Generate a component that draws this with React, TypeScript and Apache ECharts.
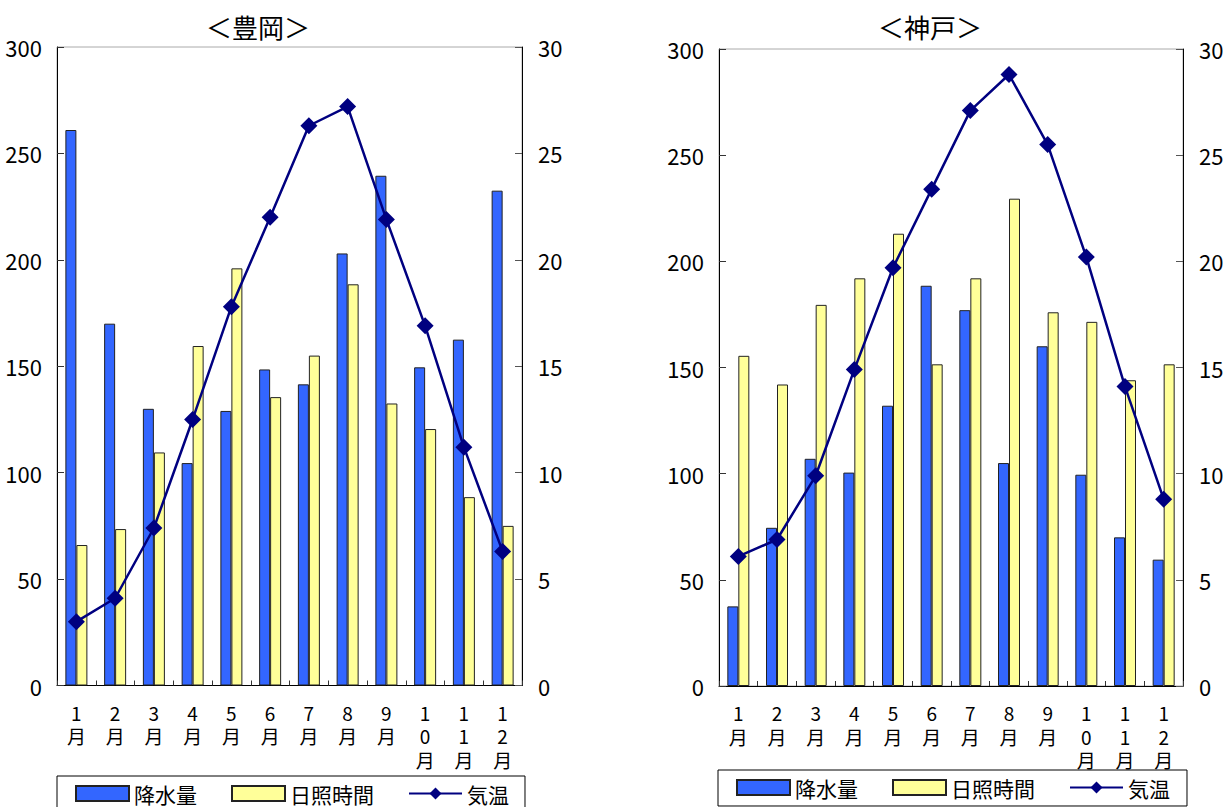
import React, { useEffect, useRef } from "react";
import * as echarts from "echarts";

const months = ["1\n月", "2\n月", "3\n月", "4\n月", "5\n月", "6\n月", "7\n月", "8\n月", "9\n月", "1\n0\n月", "1\n1\n月", "1\n2\n月"];

const toyookaRain = [261, 170, 130, 104.5, 129, 148.5, 141.5, 203, 239.5, 149.5, 162.5, 232.5];
const toyookaSun = [66, 73.5, 109.5, 159.5, 196, 135.5, 155, 188.5, 132.5, 120.5, 88.5, 75];
const toyookaTemp = [3.0, 4.1, 7.4, 12.5, 17.8, 22.0, 26.3, 27.2, 21.9, 16.9, 11.2, 6.3];

const kobeRain = [37.5, 74.5, 107, 100.5, 132, 188.5, 177, 105, 160, 99.5, 70, 59.5];
const kobeSun = [155.5, 142, 179.5, 192, 213, 151.5, 192, 229.5, 176, 171.5, 144, 151.5];
const kobeTemp = [6.1, 6.9, 9.9, 14.9, 19.7, 23.4, 27.1, 28.8, 25.5, 20.2, 14.1, 8.8];

const titles = ["＜豊岡＞", "＜神戸＞"];
const seriesNames = ["降水量", "日照時間", "気温"];

const NUM_FONT = "'Liberation Sans Narrow', 'Noto Sans CJK JP', sans-serif";
const CJK_FONT = "'Noto Sans CJK JP', sans-serif";

export default function App() {
  const ref = useRef<HTMLDivElement>(null);

  useEffect(() => {
    document.body.style.margin = "0";
    if (!ref.current) return;
    const chart = echarts.init(ref.current, null, { renderer: "svg" });

    const grids = [
      { left: 57, right: 1229 - 522, top: 47, bottom: 807 - 685.5 },
      { left: 719, right: 1229 - 1183, top: 49, bottom: 807 - 686 },
    ];
    const data = [
      [toyookaRain, toyookaSun, toyookaTemp],
      [kobeRain, kobeSun, kobeTemp],
    ];

    const axisLineStyle = { show: true, lineStyle: { color: "#000", width: 1 } };

    const xAxis = grids.map((_, i) => ({
      type: "category",
      gridIndex: i,
      data: months,
      axisLine: axisLineStyle,
      axisTick: { show: true, inside: true, length: 5, lineStyle: { color: "#333" } },
      axisLabel: {
        interval: 0,
        color: "#000",
        fontSize: 19,
        lineHeight: 23.5,
        fontFamily: NUM_FONT,
        margin: 15,
        verticalAlign: "top",
      },
      splitLine: { show: false },
    }));

    const yAxis: any[] = [];
    grids.forEach((_, i) => {
      yAxis.push({
        type: "value",
        gridIndex: i,
        position: "left",
        min: 0,
        max: 300,
        interval: 50,
        axisLine: axisLineStyle,
        axisTick: { show: true, inside: true, length: 7, lineStyle: { color: "#333" } },
        axisLabel: { color: "#000", fontSize: 22, fontFamily: NUM_FONT, margin: 15 },
        splitLine: { show: false },
      });
      yAxis.push({
        type: "value",
        gridIndex: i,
        position: "right",
        min: 0,
        max: 30,
        interval: 5,
        axisLine: axisLineStyle,
        axisTick: { show: true, inside: true, length: 7, lineStyle: { color: "#555" } },
        axisLabel: { color: "#000", fontSize: 22, fontFamily: NUM_FONT, margin: 16 },
        splitLine: { show: false },
      });
    });

    const series: any[] = [];
    grids.forEach((_, i) => {
      series.push({
        name: seriesNames[0],
        type: "bar",
        xAxisIndex: i,
        yAxisIndex: 2 * i,
        data: data[i][0],
        barWidth: 11,
        barGap: "0%",
        itemStyle: { color: "#3366FF", borderColor: "#222", borderWidth: 1 },
      });
      series.push({
        name: seriesNames[1],
        type: "bar",
        xAxisIndex: i,
        yAxisIndex: 2 * i,
        data: data[i][1],
        barWidth: 11,
        barGap: "0%",
        itemStyle: { color: "#FFFF99", borderColor: "#222", borderWidth: 1 },
      });
      series.push({
        name: seriesNames[2],
        type: "line",
        xAxisIndex: i,
        yAxisIndex: 2 * i + 1,
        data: data[i][2],
        symbol: "diamond",
        symbolSize: 17,
        lineStyle: { color: "#000080", width: 2.5 },
        itemStyle: { color: "#000080" },
        z: 5,
      });
    });

    const legendCommon = {
      orient: "horizontal",
      itemWidth: 53,
      itemHeight: 15,
      itemGap: 34,
      borderColor: "#000",
      borderWidth: 1,
      selectedMode: false,
      textStyle: { fontSize: 21, fontFamily: CJK_FONT, color: "#000" },
      data: [
        { name: seriesNames[0], icon: "rect" },
        { name: seriesNames[1], icon: "rect" },
        { name: seriesNames[2] },
      ],
    };

    chart.setOption({
      animation: false,
      backgroundColor: "#fff",
      grid: grids.map((g) => ({ ...g, show: true, borderColor: "#aaa", borderWidth: 1, containLabel: false })),
      xAxis,
      yAxis,
      series,
      legend: [
        { ...legendCommon, left: 57, top: 776, padding: [7, 16, 12, 18] },
        { ...legendCommon, left: 718, top: 770, padding: [7, 17, 8, 18] },
      ],
      graphic: [
        {
          type: "text",
          x: 258,
          y: 26,
          style: { text: titles[0], fontSize: 26, fontFamily: CJK_FONT, fill: "#000", textAlign: "center", textVerticalAlign: "middle" },
        },
        {
          type: "text",
          x: 930,
          y: 26,
          style: { text: titles[1], fontSize: 26, fontFamily: CJK_FONT, fill: "#000", textAlign: "center", textVerticalAlign: "middle" },
        },
      ],
    });

    return () => chart.dispose();
  }, []);

  return <div ref={ref} style={{ width: 1229, height: 807 }} />;
}
